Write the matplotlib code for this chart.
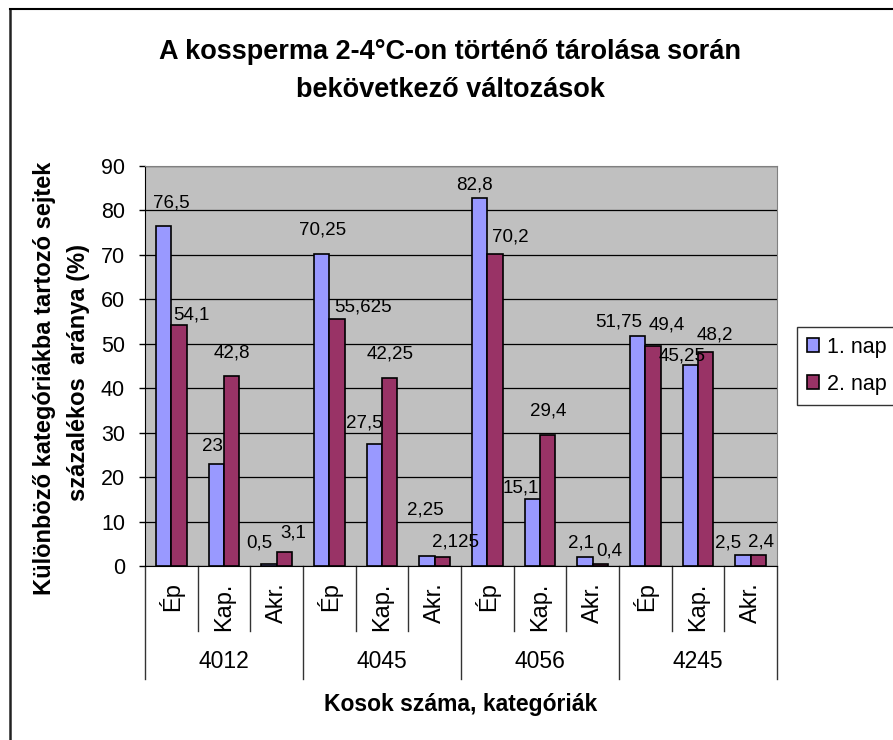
import numpy as np
import matplotlib.pyplot as plt
from matplotlib.transforms import blended_transform_factory

plt.rcParams['font.family'] = ['Liberation Sans', 'DejaVu Sans']

# data
rams = ['4012', '4045', '4056', '4245']
kinds = ['Ép', 'Kap.', 'Akr.']
series_names = ['1. nap', '2. nap']
day1 = [76.5, 23, 0.5, 70.25, 27.5, 2.25, 82.8, 15.1, 2.1, 51.75, 45.25, 2.5]
day2 = [54.1, 42.8, 3.1, 55.625, 42.25, 2.125, 70.2, 29.4, 0.4, 49.4, 48.2, 2.4]

# label nudges in pixels (dx, dy) from the top centre of each bar, as placed in the original
nudge1 = [(8, 23), (-4, 17), (-10, 21), (1, 24), (-10, 21), (-2, 46),
          (-5, 13), (-12, 11), (-4, 14), (-19, 14), (-8, 9), (-15, 12)]
nudge2 = [(12, 10), (0, 23), (9, 19), (26, 12), (0, 24), (13, 15),
          (15, 17), (1, 24), (9, 13), (14, 21), (9, 17), (3, 13)]

BLUE = '#9999FF'
PLUM = '#993366'
W = 0.29


def fmt(v):
    return f"{v:g}".replace('.', ',')


fig = plt.figure(figsize=(8.93, 7.40), dpi=100)
ax = fig.add_axes([0.1624, 0.2349, 0.7077, 0.5412])
ax.set_facecolor('#C0C0C0')

x = np.arange(len(day1))
ax.bar(x - W / 2, day1, W, color=BLUE, edgecolor='black', linewidth=1.2, label=series_names[0], zorder=3)
ax.bar(x + W / 2, day2, W, color=PLUM, edgecolor='black', linewidth=1.2, label=series_names[1], zorder=3)

for xs, vals, nud in ((x - W / 2, day1, nudge1), (x + W / 2, day2, nudge2)):
    for xi, v, (dx, dy) in zip(xs, vals, nud):
        ax.annotate(fmt(v), (xi, v), xytext=(dx, dy), textcoords='offset pixels',
                    ha='center', va='center', fontsize=13.5, annotation_clip=False, zorder=5)

ax.set_xlim(-0.5, len(day1) - 0.5)
ax.set_ylim(0, 90)
ax.set_yticks(np.arange(0, 91, 10))
ax.yaxis.grid(True, color='black', linewidth=0.9)
ax.set_axisbelow(True)
ax.set_xticks([])
ax.tick_params(axis='y', direction='out', length=4.5, width=1, pad=10, labelsize=15.5)

for side in ('top', 'right'):
    ax.spines[side].set_color('#808080')
ax.spines['left'].set_color('black')
ax.spines['bottom'].set_color('black')

# two-level category axis
trans = blended_transform_factory(ax.transData, ax.transAxes)
for k in range(len(day1) + 1):
    depth = -0.282 if k % 3 == 0 else -0.161
    ax.plot([k - 0.5, k - 0.5], [0, depth], transform=trans, color='#333333',
            lw=1, clip_on=False)
for i in range(len(day1)):
    ax.text(i, -0.04, kinds[i % 3], transform=trans, rotation=90,
            ha='center', va='top', fontsize=17)
for g, r in enumerate(rams):
    ax.text(3 * g + 1, -0.239, r, transform=trans, ha='center', va='center', fontsize=16.5)

fig.text(450 / 893, 1 - 52 / 740, 'A kossperma 2-4°C-on történő tárolása során',
         ha='center', va='center', fontsize=19.5, fontweight='bold')
fig.text(450 / 893, 1 - 90 / 740, 'bekövetkező változások',
         ha='center', va='center', fontsize=19.5, fontweight='bold')

fig.text(45 / 893, 1 - 378 / 740, 'Különböző kategóriákba tartozó sejtek',
         rotation=90, ha='center', va='center', fontsize=17, fontweight='bold')
fig.text(78 / 893, 1 - 373 / 740, 'százalékos  aránya (%)',
         rotation=90, ha='center', va='center', fontsize=17, fontweight='bold')
fig.text(461 / 893, 1 - 705 / 740, 'Kosok száma, kategóriák',
         ha='center', va='center', fontsize=16.5, fontweight='bold')

leg = fig.legend(loc='upper left', bbox_to_anchor=(797 / 893, 1 - 327 / 740),
                 frameon=True, fancybox=False, edgecolor='black', fontsize=15.5,
                 handlelength=0.55, handleheight=0.6, handletextpad=0.4,
                 labelspacing=0.75, borderpad=0.45, borderaxespad=0)
leg.get_frame().set_linewidth(1)

# chart area frame (right and bottom edges fall outside the picture)
fig.add_artist(plt.Line2D([9.5 / 893, 9.5 / 893], [0, 1 - 9 / 740], color='#222222',
                          lw=1.8, transform=fig.transFigure))
fig.add_artist(plt.Line2D([9.5 / 893, 1], [1 - 9 / 740, 1 - 9 / 740], color='black',
                          lw=1.5, transform=fig.transFigure))

fig.savefig('out.png', dpi=100)
